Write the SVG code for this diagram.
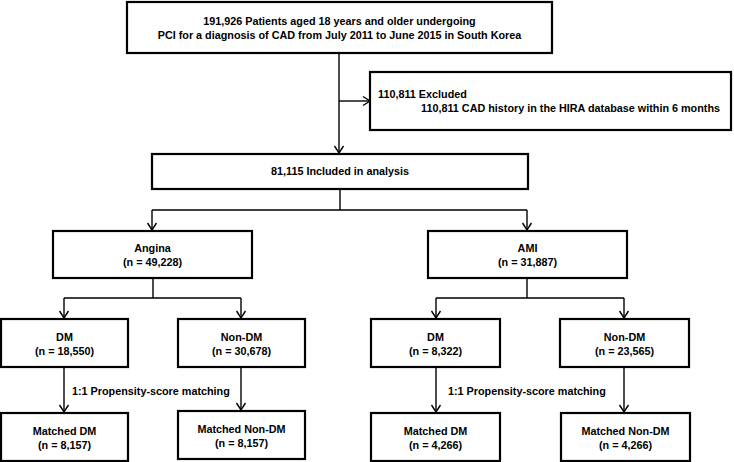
<svg xmlns="http://www.w3.org/2000/svg" width="734" height="462" viewBox="0 0 734 462">
<defs>
<marker id="ah" markerWidth="12" markerHeight="12" refX="10" refY="6" orient="auto" markerUnits="userSpaceOnUse">
<path d="M3,1.5 L10,6 L3,10.5" fill="none" stroke="#000" stroke-width="1.4"/>
</marker>
<style>
.box{fill:#fff;stroke:#000;stroke-width:2.2}
.ln{fill:none;stroke:#000;stroke-width:1.4}
.ar{fill:none;stroke:#000;stroke-width:1.4;marker-end:url(#ah)}
text{font-family:"Liberation Sans",Arial,sans-serif;font-weight:bold;font-size:10.8px;fill:#000}
.c{text-anchor:middle}
</style>
</defs>
<rect width="734" height="462" fill="#fff"/>
<g id="connectors">
<path class="ln" d="M339,53 V101"/>
<path class="ar" d="M339,101 H370"/>
<path class="ar" d="M339,101 V153"/>
<path class="ln" d="M340,189 V210 M152,210 H527"/>
<path class="ar" d="M152,210 V230"/>
<path class="ar" d="M527,210 V230"/>
<path class="ln" d="M153,278 V298 M64,298 H241"/>
<path class="ar" d="M64,298 V318"/>
<path class="ar" d="M241,298 V318"/>
<path class="ln" d="M527,278 V298 M436,298 H624"/>
<path class="ar" d="M436,298 V318"/>
<path class="ar" d="M624,298 V318"/>
<path class="ar" d="M64,367 V412"/>
<path class="ar" d="M241,367 V410"/>
<path class="ar" d="M436,367 V412"/>
<path class="ar" d="M624,367 V412"/>
</g>
<g id="n-top">
<rect class="box" x="127" y="2" width="425" height="51"/>
<text class="c" x="339.5" y="25">191,926 Patients aged 18 years and older undergoing</text>
<text class="c" x="339.5" y="39">PCI for a diagnosis of CAD from July 2011 to June 2015 in South Korea</text>
</g>
<g id="n-excluded">
<rect class="box" x="370" y="72" width="361" height="58"/>
<text x="378" y="98">110,811 Excluded</text>
<text x="421" y="112">110,811 CAD history in the HIRA database within 6 months</text>
</g>
<g id="n-included">
<rect class="box" x="152" y="154" width="376" height="35"/>
<text class="c" x="340" y="175">81,115 Included in analysis</text>
</g>
<g id="n-angina">
<rect class="box" x="53" y="231" width="199" height="47"/>
<text class="c" x="152.5" y="252">Angina</text>
<text class="c" x="152.5" y="266">(n = 49,228)</text>
</g>
<g id="n-ami">
<rect class="box" x="428" y="231" width="199" height="47"/>
<text class="c" x="527.5" y="252">AMI</text>
<text class="c" x="527.5" y="266">(n = 31,887)</text>
</g>
<g id="n-angina-dm">
<rect class="box" x="1" y="319" width="127" height="48"/>
<text class="c" x="64.5" y="341">DM</text>
<text class="c" x="64.5" y="355">(n = 18,550)</text>
</g>
<g id="n-angina-nondm">
<rect class="box" x="178" y="319" width="127" height="48"/>
<text class="c" x="241.5" y="341">Non-DM</text>
<text class="c" x="241.5" y="355">(n = 30,678)</text>
</g>
<g id="n-ami-dm">
<rect class="box" x="371" y="319" width="129" height="48"/>
<text class="c" x="435.5" y="341">DM</text>
<text class="c" x="435.5" y="355">(n = 8,322)</text>
</g>
<g id="n-ami-nondm">
<rect class="box" x="560" y="319" width="129" height="48"/>
<text class="c" x="624.5" y="341">Non-DM</text>
<text class="c" x="624.5" y="355">(n = 23,565)</text>
</g>
<g id="labels">
<text x="72" y="395">1:1 Propensity-score matching</text>
<text x="448" y="395">1:1 Propensity-score matching</text>
</g>
<g id="n-angina-mdm">
<rect class="box" x="1" y="413" width="127" height="48"/>
<text class="c" x="64.5" y="435">Matched DM</text>
<text class="c" x="64.5" y="449">(n = 8,157)</text>
</g>
<g id="n-angina-mnondm">
<rect class="box" x="178" y="411" width="127" height="48"/>
<text class="c" x="241.5" y="433">Matched Non-DM</text>
<text class="c" x="241.5" y="447">(n = 8,157)</text>
</g>
<g id="n-ami-mdm">
<rect class="box" x="371" y="413" width="129" height="48"/>
<text class="c" x="435.5" y="435">Matched DM</text>
<text class="c" x="435.5" y="449">(n = 4,266)</text>
</g>
<g id="n-ami-mnondm">
<rect class="box" x="561" y="413" width="129" height="48"/>
<text class="c" x="625.5" y="435">Matched Non-DM</text>
<text class="c" x="625.5" y="449">(n = 4,266)</text>
</g>
</svg>
